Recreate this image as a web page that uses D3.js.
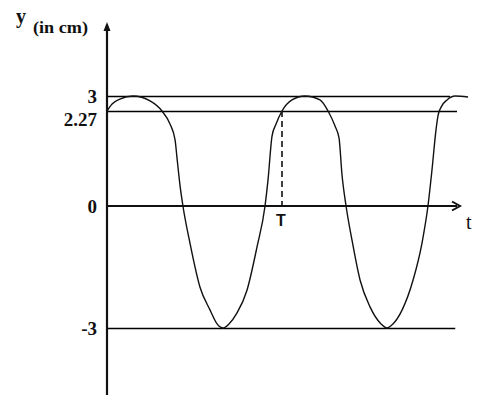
<!DOCTYPE html>
<html lang="en">
<head>
<meta charset="UTF-8">
<title>y (in cm) vs t</title>
<style>
  body { margin: 0; background: #fff; }
  svg { display: block; }
  .tick-label { font-family: "Liberation Serif", "DejaVu Serif", serif; font-weight: bold; font-size: 19px; fill: #111; }
</style>
</head>
<body>
<svg id="chart"></svg>
<script src="https://d3js.org/d3.v7.min.js"></script>
<script>
// curve: t in units of T, y in cm
const curveT = [0, 0.029, 0.074, 0.149, 0.246, 0.314, 0.36, 0.389, 0.40, 0.417, 0.434,
  0.474, 0.531, 0.589, 0.629, 0.663, 0.697, 0.743, 0.80, 0.857, 0.903, 0.92, 0.943, 0.966, 1.0,
  1.057, 1.131, 1.217, 1.263, 1.303, 1.326, 1.343, 1.366, 1.40, 1.446, 1.503, 1.566, 1.60,
  1.634, 1.686, 1.749, 1.80, 1.834, 1.857, 1.88, 1.891, 1.909, 1.943, 1.989, 2.063];
const curveY = [2.27, 2.61, 2.85, 3.0, 2.76, 2.27, 1.96, 1.58, 1.15, 0.50, 0,
  -0.91, -1.99, -2.56, -2.90, -3, -2.90, -2.63, -2.07, -1.01, 0, 0.62, 1.67, 1.96, 2.27,
  2.81, 3, 2.81, 2.27, 1.91, 1.62, 0.74, 0, -0.84, -1.82, -2.48, -2.90, -3,
  -2.90, -2.56, -1.82, -0.91, 0, 0.86, 1.82, 2.15, 2.46, 2.81, 3, 2.95];

const yTicks = [3, 2.27, 0, -3];
const yTickLabels = ["3", "2.27", "0", "-3"];
const guideValues = [3, 2.27, -3];
const guideEnds = [1.96, 2.0, 1.99];
const periodT = 1;

const width = 501, height = 407;
const svg = d3.select("#chart").attr("width", width).attr("height", height);

// the sketch is hand drawn, so the y scale is piecewise
const x = d3.scaleLinear().domain([0, 2]).range([107, 457]);
const y = d3.scaleLinear().domain([-3, 0, 2.27, 3]).range([328, 206, 111, 96]);

const axisTop = 22, axisBottom = 395, axisRight = 460;

// guide lines
svg.selectAll(".guide")
  .data(guideValues)
  .enter().append("line")
  .attr("x1", x(0)).attr("x2", (d, i) => x(guideEnds[i]))
  .attr("y1", d => y(d) + 0.5).attr("y2", d => y(d) + 0.5)
  .attr("stroke", "#000").attr("stroke-width", 1.3);

// dashed line at T
svg.append("line")
  .attr("x1", x(periodT)).attr("x2", x(periodT))
  .attr("y1", y(2.27)).attr("y2", y(0))
  .attr("stroke", "#111").attr("stroke-width", 1.6)
  .attr("stroke-dasharray", "6,4");

// the wave
const pts = curveT.map((t, i) => [t, curveY[i]]);
svg.append("path")
  .datum(pts)
  .attr("fill", "none")
  .attr("stroke", "#111")
  .attr("stroke-width", 1.4)
  .attr("d", d3.line().x(d => x(d[0])).y(d => y(d[1])).curve(d3.curveMonotoneX));

// axes
svg.append("line")
  .attr("x1", x(0)).attr("x2", x(0))
  .attr("y1", axisTop + 4).attr("y2", axisBottom)
  .attr("stroke", "#111").attr("stroke-width", 2.2);
svg.append("path")
  .attr("d", `M${x(0)},${axisTop} L${x(0) - 3.5},${axisTop + 9} L${x(0) + 3.5},${axisTop + 9} Z`)
  .attr("fill", "#111");

svg.append("line")
  .attr("x1", x(0)).attr("x2", axisRight - 3)
  .attr("y1", y(0)).attr("y2", y(0))
  .attr("stroke", "#111").attr("stroke-width", 2.2);
svg.append("path")
  .attr("d", `M${axisRight - 8},${y(0) - 4.5} L${axisRight},${y(0)} L${axisRight - 8},${y(0) + 4.5}`)
  .attr("fill", "none").attr("stroke", "#111").attr("stroke-width", 2);

// y tick labels
svg.selectAll(".tick-label")
  .data(yTicks)
  .enter().append("text")
  .attr("class", "tick-label")
  .attr("x", 97)
  .attr("y", d => y(d))
  .attr("dy", d => d === 2.27 ? "0.78em" : "0.35em")
  .attr("text-anchor", "end")
  .text((d, i) => yTickLabels[i]);

// axis titles
svg.append("text")
  .attr("x", 16).attr("y", 23)
  .attr("font-family", "Liberation Serif, serif").attr("font-weight", "bold")
  .attr("font-size", 20).attr("fill", "#111")
  .text("y");
svg.append("text")
  .attr("x", 33).attr("y", 33)
  .attr("font-family", "Liberation Serif, serif").attr("font-weight", "bold")
  .attr("font-size", 17).attr("fill", "#111")
  .attr("textLength", 55).attr("lengthAdjust", "spacingAndGlyphs")
  .text("(in cm)");

svg.append("text")
  .attr("x", x(periodT) - 1).attr("y", 226)
  .attr("text-anchor", "middle")
  .attr("font-family", "Liberation Sans, Arial, sans-serif").attr("font-weight", "bold")
  .attr("font-size", 16).attr("fill", "#111")
  .text("T");

svg.append("text")
  .attr("x", 466).attr("y", 229)
  .attr("font-family", "Liberation Serif, serif")
  .attr("font-size", 20).attr("fill", "#111")
  .text("t");
</script>
</body>
</html>
